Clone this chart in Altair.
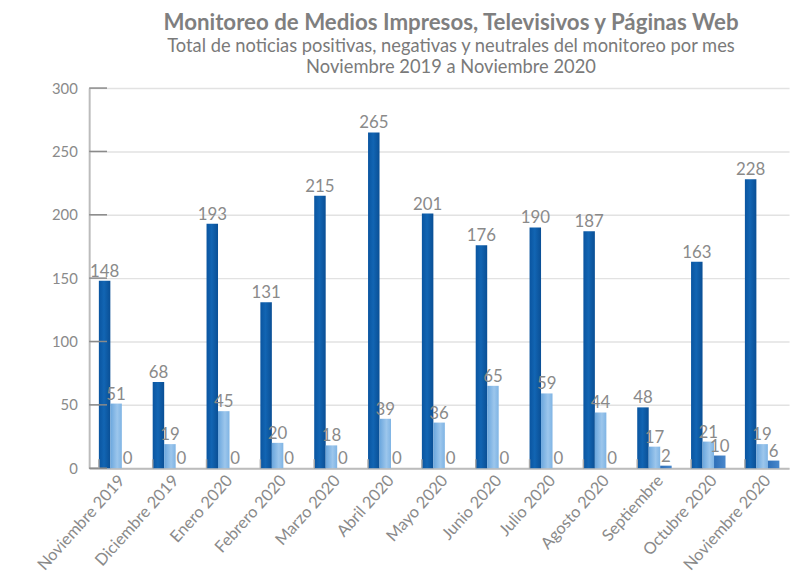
import altair as alt
import pandas as pd

meses = ["Noviembre 2019", "Diciembre 2019", "Enero 2020", "Febrero 2020", "Marzo 2020",
         "Abril 2020", "Mayo 2020", "Junio 2020", "Julio 2020", "Agosto 2020",
         "Septiembre", "Octubre 2020", "Noviembre 2020"]
serie_a = [148, 68, 193, 131, 215, 265, 201, 176, 190, 187, 48, 163, 228]
serie_b = [51, 19, 45, 20, 18, 39, 36, 65, 59, 44, 17, 21, 19]
serie_c = [0, 0, 0, 0, 0, 0, 0, 0, 0, 0, 2, 10, 6]
series = ["Neutrales", "Positivas", "Negativas"]
y_ticks = [0, 50, 100, 150, 200, 250, 300]

rows = []
for i, m in enumerate(meses):
    for s, vals in zip(series, [serie_a, serie_b, serie_c]):
        rows.append({"mes": m, "serie": s, "valor": vals[i]})
df = pd.DataFrame(rows)
ticks_df = pd.DataFrame({"t": y_ticks})
mes_df = pd.DataFrame({"mes": meses})

FONT = "Lato"
W, H = 707, 384

xscale = alt.Scale(domain=meses, paddingInner=0.36, paddingOuter=0.18)
yscale = alt.Scale(domain=[0, 300], nice=False)
offscale = alt.Scale(domain=series, paddingInner=0, paddingOuter=0)

x_enc = alt.X("mes:N", scale=xscale, sort=meses,
              axis=alt.Axis(title=None, labelAngle=-48, labelAlign="right",
                            labelBaseline="top", labelFontSize=16.5, labelColor="#8a8a8a",
                            labelFont=FONT, ticks=False, domainColor="#bcbcbc",
                            domainWidth=2, labelPadding=4, grid=False))
y_enc = alt.Y("valor:Q", scale=yscale,
              axis=alt.Axis(title=None, values=y_ticks, labelFontSize=15,
                            labelColor="#8a8a8a", labelFont=FONT, ticks=False,
                            domainColor="#bcbcbc", domainWidth=2, labelPadding=12,
                            grid=True, gridColor="#e2e2e2", gridWidth=1.5))

grads = {
    "Neutrales": {"gradient": "linear", "x1": 0, "x2": 1, "y1": 0, "y2": 0,
                  "stops": [{"offset": 0, "color": "#0a55a0"}, {"offset": 0.45, "color": "#1265b3"},
                            {"offset": 1, "color": "#0a4f95"}]},
    "Positivas": {"gradient": "linear", "x1": 0, "x2": 1, "y1": 0, "y2": 0,
                  "stops": [{"offset": 0, "color": "#6aa6dd"}, {"offset": 0.6, "color": "#9cc6ec"},
                            {"offset": 1, "color": "#7fb4e4"}]},
    "Negativas": {"gradient": "linear", "x1": 0, "x2": 1, "y1": 0, "y2": 0,
                  "stops": [{"offset": 0, "color": "#2e6fb8"}, {"offset": 1, "color": "#4a88cc"}]},
}

base = alt.Chart(df)
bars = []
for s in series:
    bars.append(
        base.transform_filter(alt.datum.serie == s)
        .mark_bar(color=grads[s])
        .encode(x=x_enc, y=y_enc,
                xOffset=alt.XOffset("serie:N", scale=offscale, sort=series))
    )

labels = base.mark_text(baseline="bottom", dy=0, fontSize=17, font=FONT,
                        color="#8a8a8a").encode(
    x=alt.X("mes:N", scale=xscale, sort=meses),
    y=alt.Y("valor:Q", scale=yscale),
    xOffset=alt.XOffset("serie:N", scale=offscale, sort=series),
    text="valor:Q",
)

ytick_rules = alt.Chart(ticks_df).mark_rule(color="#8a8a8a", strokeWidth=1.5).encode(
    y=alt.Y("t:Q", scale=yscale),
    x=alt.value(0), x2=alt.value(18),
)

xtick_rules = alt.Chart(mes_df).mark_rule(color="#a8a8a8", strokeWidth=1.5).encode(
    x=alt.X("mes:N", scale=xscale, sort=meses, bandPosition=0),
    y=alt.value(H - 9), y2=alt.value(H),
)

chart = alt.layer(*bars, labels, ytick_rules, xtick_rules).properties(
    width=W, height=H,
    autosize=alt.AutoSizeParams(type="none"),
    padding={"left": 82, "top": 78, "right": 4, "bottom": 104},
    title=alt.TitleParams(
        text="Monitoreo de Medios Impresos, Televisivos y Páginas Web",
        subtitle=["Total de noticias positivas, negativas y neutrales del monitoreo por mes",
                  "Noviembre 2019 a Noviembre 2020"],
        font=FONT, fontSize=22.5, fontWeight="bold", color="#7f7f7f",
        subtitleFont=FONT, subtitleFontSize=18.5, subtitleColor="#7a7a7a",
        subtitlePadding=3, subtitleLineHeight=21,
        anchor="middle", frame="group", dx=12, offset=5,
    ),
).configure_view(stroke=None)

chart.save("out.html", embed_options={"renderer": "svg", "actions": False})
